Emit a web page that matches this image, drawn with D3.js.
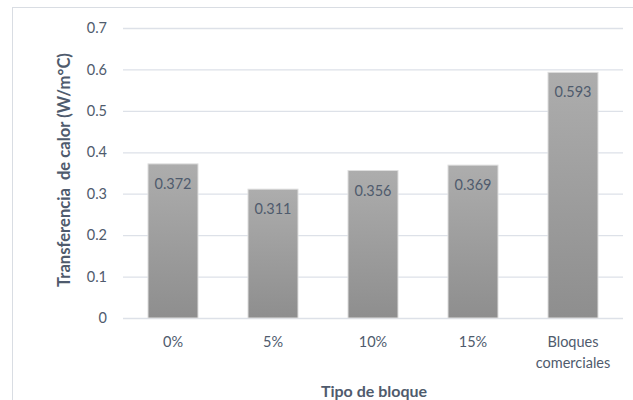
<!DOCTYPE html>
<html><head><meta charset="utf-8">
<script src="https://cdn.jsdelivr.net/npm/d3@7"></script>
<style>body{margin:0;background:#fff}svg{display:block;font-family:Lato,"Open Sans",sans-serif}</style>
</head><body>
<script>
const categories = ["0%", "5%", "10%", "15%", "Bloques comerciales"];
const values = [0.372, 0.311, 0.356, 0.369, 0.593];
const yTicks = [0, 0.1, 0.2, 0.3, 0.4, 0.5, 0.6, 0.7];
const yTitle = "Transferencia\u00a0 de calor (W/m°C)";
const xTitle = "Tipo de bloque";

const W = 633, H = 400;
const svg = d3.select("body").append("svg").attr("width", W).attr("height", H);
const defs = svg.append("defs");
const g1 = defs.append("linearGradient").attr("id","bg").attr("x1",0).attr("y1",0).attr("x2",0).attr("y2",1);
g1.append("stop").attr("offset","0%").attr("stop-color","#adadad");
g1.append("stop").attr("offset","100%").attr("stop-color","#8e8e8e");

svg.append("rect").attr("x",12.5).attr("y",7.5).attr("width",W).attr("height",H)
  .attr("fill","#fff").attr("stroke","#d9dde3");

const x = d3.scaleBand().domain(categories).range([123, 623]).paddingInner(0.5).paddingOuter(0.25);
const y = d3.scaleLinear().domain([0, 0.7]).range([318, 28]);
const txt = "#4f5b6d";
const fs = 14.5, fsb = 16;

const ga = svg.append("g").attr("transform","translate(123,0)")
  .call(d3.axisLeft(y).tickValues(yTicks).tickSize(-500).tickFormat(d => d === 0 ? "0" : d3.format(".1f")(d)).tickPadding(16));
ga.select(".domain").remove();
ga.selectAll(".tick line").attr("stroke","#dde1e8").attr("stroke-width",1.3);
ga.selectAll(".tick text").attr("fill",txt).attr("font-size",fs).attr("font-family","Lato,sans-serif");

svg.append("g").selectAll("rect").data(values).join("rect")
  .attr("x",(d,i)=>x(categories[i])).attr("width",x.bandwidth())
  .attr("y",d=>y(d)).attr("height",d=>y(0)-y(d))
  .attr("fill","url(#bg)").attr("stroke","#dedede").attr("stroke-width",1);

svg.append("g").selectAll("text").data(values).join("text")
  .attr("x",(d,i)=>x(categories[i])+x.bandwidth()/2).attr("y",d=>y(d)+25)
  .attr("text-anchor","middle").attr("font-size",fs).attr("fill",txt)
  .text(d=>d3.format(".3f")(d));

const gx = svg.append("g").attr("transform","translate(0,318)")
  .call(d3.axisBottom(x).tickSize(0).tickPadding(0).tickFormat(""));
gx.select(".domain").remove();
gx.selectAll(".tick").each(function(d){
  const words = d.split(" ");
  const t = d3.select(this).append("text").attr("fill",txt).attr("font-size",fs)
    .attr("text-anchor","middle").attr("font-family","Lato,sans-serif");
  words.forEach((w,i)=>t.append("tspan").attr("x",0).attr("y",29 + i*21).text(w));
});

svg.append("text").attr("x",374).attr("y",397).attr("text-anchor","middle")
  .attr("font-size",fsb).attr("font-weight","bold").attr("fill",txt).text(xTitle);
svg.append("text").attr("transform","translate(70,170) rotate(-90)").attr("text-anchor","middle")
  .attr("font-size",16.6).attr("font-weight","bold").attr("fill",txt).text(yTitle);
</script>
</body></html>
